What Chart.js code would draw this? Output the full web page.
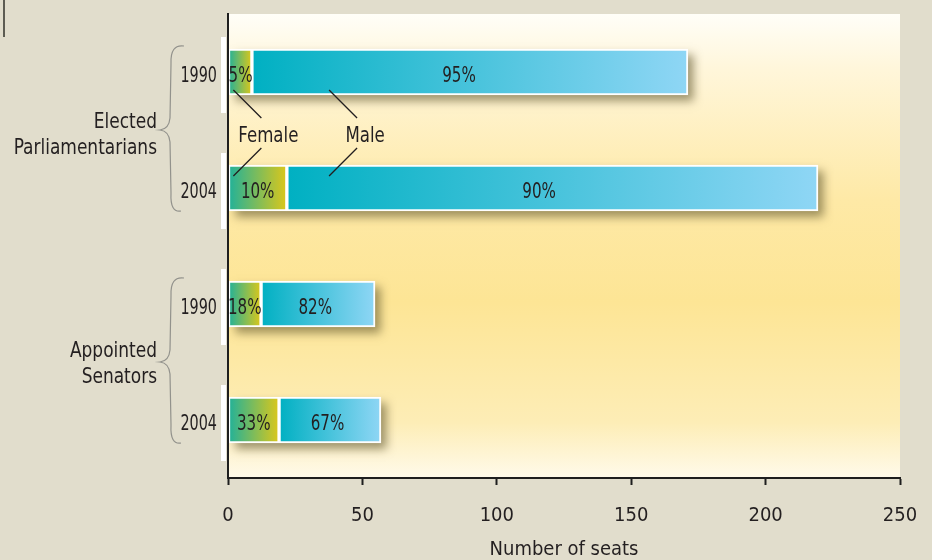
<!DOCTYPE html>
<html>
<head>
<meta charset="utf-8">
<script src="https://cdn.jsdelivr.net/npm/chart.js@4.4.1/dist/chart.umd.min.js"></script>
<style>
  html, body { margin: 0; padding: 0; background: #e1ddcc; }
  #wrap { width: 932px; height: 560px; position: relative; }
</style>
</head>
<body>
<div id="wrap"><canvas id="seatsChart"></canvas></div>
<script>
// data (number of seats)
const years = ['1990', '2004', '1990', '2004'];
const groups = [['Elected', 'Parliamentarians'], ['Appointed', 'Senators']];
const femaleSeats = [8.9, 21.9, 12.3, 19.0];
const maleSeats = [162.2, 197.6, 42.4, 37.9];
const femaleShare = ['5%', '10%', '18%', '33%'];
const maleShare = ['95%', '90%', '82%', '67%'];
const xTicks = [0, 50, 100, 150, 200, 250];

const FONT = '"DejaVu Sans Condensed", "DejaVu Sans", sans-serif';
const INK = '#231f20';

// horizontal gradient for a segment of a bar
function segGradient(c, fromVal, toVal, c0, c1) {
  const xs = c.chart.scales.x;
  if (!xs || c.type !== 'data') return c0;
  const a = xs.getPixelForValue(fromVal);
  const b = xs.getPixelForValue(toVal);
  if (!isFinite(a) || !isFinite(b) || a === b) return c0;
  const g = c.chart.ctx.createLinearGradient(a, 0, b, 0);
  g.addColorStop(0, c0);
  g.addColorStop(1, c1);
  return g;
}

// condensed text: the original uses a narrow face
function narrowText(ctx, txt, x, y, align, sx) {
  const w = ctx.measureText(txt).width * sx;
  let left = x;
  if (align === 'center') left = x - w / 2;
  if (align === 'right') left = x - w;
  ctx.save();
  ctx.translate(left, y);
  ctx.scale(sx, 1);
  ctx.textAlign = 'left';
  ctx.fillText(txt, 0, 0);
  ctx.restore();
}

// background of the plot area + shadows under the bars
const backdrop = {
  id: 'backdrop',
  beforeDraw(chart) {
    const { ctx, chartArea: a } = chart;
    const g = ctx.createLinearGradient(0, a.top, 0, a.bottom);
    g.addColorStop(0, '#fffef8');
    g.addColorStop(0.12, '#fff6da');
    g.addColorStop(0.4, '#fee9a6');
    g.addColorStop(0.62, '#fde595');
    g.addColorStop(0.88, '#fdedb6');
    g.addColorStop(1, '#fffaea');
    ctx.save();
    ctx.fillStyle = g;
    ctx.fillRect(a.left, a.top, a.right - a.left, a.bottom - a.top);
    ctx.restore();
  },
  beforeDatasetsDraw(chart) {
    const { ctx } = chart;
    const f = chart.getDatasetMeta(0).data;
    const m = chart.getDatasetMeta(1).data;
    ctx.save();
    ctx.shadowColor = 'rgba(95, 85, 45, 0.6)';
    ctx.shadowBlur = 9;
    ctx.shadowOffsetX = 6;
    ctx.shadowOffsetY = 6;
    ctx.fillStyle = '#b9ad86';
    f.forEach((el, i) => {
      const h = el.height;
      ctx.fillRect(el.base, el.y - h / 2, m[i].x - el.base, h);
    });
    ctx.restore();
  }
};

// texts, braces, pointers and axis line
const decorations = {
  id: 'decorations',
  afterDatasetsDraw(chart) {
    const { ctx, chartArea: a } = chart;
    const xs = chart.scales.x;
    const f = chart.getDatasetMeta(0).data;
    const m = chart.getDatasetMeta(1).data;

    ctx.save();
    ctx.font = '21px ' + FONT;
    ctx.fillStyle = INK;
    ctx.textBaseline = 'alphabetic';
    f.forEach((el, i) => {
      let cx = (el.base + el.x) / 2;
      if (i === 0) cx = el.base + 12;
      narrowText(ctx, femaleShare[i], cx, el.y + 10, 'center', 0.8);
      const w = m[i].x - m[i].base;
      narrowText(ctx, maleShare[i], (m[i].base + m[i].x) / 2 - w * 0.025, el.y + 10, 'center', 0.8);
    });

    // year labels and white markers left of the axis
    f.forEach((el, i) => {
      ctx.fillStyle = INK;
      narrowText(ctx, years[i], a.left - 11, el.y + 10, 'right', 0.76);
      ctx.fillStyle = '#ffffff';
      ctx.fillRect(a.left - 7, el.y - 35, 5, 76);
    });

    // group labels with braces
    ctx.fillStyle = INK;
    [[0, 1], [2, 3]].forEach((pair, gi) => {
      const yTop = f[pair[0]].y, yBot = f[pair[1]].y;
      const mid = (yTop + yBot) / 2;
      const lm = gi === 0 ? mid + 3 : mid;
      narrowText(ctx, groups[gi][0], a.left - 71, lm - 13 + 7.5, 'right', 0.9);
      narrowText(ctx, groups[gi][1], a.left - 71, lm + 13 + 7.5, 'right', 0.9);

      const t = yTop - 26, b = yBot + 23;
      const xs0 = a.left - 58, tip = a.left - 68, end = a.left - 44;
      ctx.strokeStyle = '#92928c';
      ctx.lineWidth = 1.2;
      ctx.beginPath();
      ctx.moveTo(end, t);
      ctx.quadraticCurveTo(xs0, t - 2, xs0 + 1, t + 18);
      ctx.lineTo(xs0, mid - 12);
      ctx.quadraticCurveTo(xs0 - 1, mid - 1, tip, mid);
      ctx.quadraticCurveTo(xs0 - 1, mid + 1, xs0, mid + 12);
      ctx.lineTo(xs0 + 1, b - 18);
      ctx.quadraticCurveTo(xs0, b + 2, end - 3, b);
      ctx.stroke();
    });

    // Female / Male pointers
    const top = f[0], bot = f[1];
    const yA = top.y + top.height / 2 - 5;
    const yB = bot.y - bot.height / 2 + 11;
    const yL = (yA + yB) / 2;
    const xF = xs.getPixelForValue(2), xM = xs.getPixelForValue(37.6);
    ctx.strokeStyle = '#231f20';
    ctx.lineWidth = 1.3;
    [xF, xM].forEach(x => {
      ctx.beginPath();
      ctx.moveTo(x, yA); ctx.lineTo(x + 28, yA + 28);
      ctx.moveTo(x + 28, yB - 28); ctx.lineTo(x, yB);
      ctx.stroke();
    });
    narrowText(ctx, 'Female', xF + 35, yL + 9, 'center', 0.88);
    narrowText(ctx, 'Male', xM + 36, yL + 9, 'center', 0.88);

    // vertical axis line
    ctx.strokeStyle = '#1e1e1e';
    ctx.lineWidth = 2;
    ctx.beginPath();
    ctx.moveTo(a.left, a.top - 1);
    ctx.lineTo(a.left, a.bottom);
    ctx.stroke();

    // small mark top left
    ctx.fillStyle = '#5d5c52';
    ctx.fillRect(3, 0, 2, 37);
    ctx.restore();
  }
};

new Chart(document.getElementById('seatsChart'), {
  type: 'bar',
  data: {
    labels: years,
    datasets: [
      {
        label: 'Female',
        data: femaleSeats,
        backgroundColor: c => segGradient(c, 0, femaleSeats[c.dataIndex], '#1fb19b', '#dcc71a'),
        borderColor: '#ffffff',
        borderWidth: 2,
        borderSkipped: false,
        barThickness: 46
      },
      {
        label: 'Male',
        data: maleSeats,
        backgroundColor: c => segGradient(c, femaleSeats[c.dataIndex],
          femaleSeats[c.dataIndex] + maleSeats[c.dataIndex], '#00b0c2', '#8fd6f5'),
        borderColor: '#ffffff',
        borderWidth: 2,
        borderSkipped: false,
        barThickness: 46
      }
    ]
  },
  options: {
    indexAxis: 'y',
    responsive: true,
    maintainAspectRatio: false,
    animation: false,
    layout: { padding: { left: 228, right: 32, top: 14, bottom: 0 } },
    plugins: {
      legend: { display: false },
      tooltip: { enabled: true }
    },
    scales: {
      x: {
        stacked: true,
        min: 0,
        max: 250,
        afterBuildTicks: s => { s.ticks = xTicks.map(v => ({ value: v })); },
        afterFit: s => { s.height = 82; s.paddingLeft = 0; s.paddingRight = 0; },
        ticks: { color: INK, font: { family: FONT, size: 20 }, padding: 19, maxRotation: 0 },
        grid: { drawOnChartArea: false, drawTicks: true, tickLength: 7, tickColor: '#1e1e1e', tickWidth: 2 },
        border: { display: true, color: '#1e1e1e', width: 2 },
        title: {
          display: true,
          text: 'Number of seats',
          color: INK,
          font: { family: FONT, size: 20, lineHeight: 1 },
          padding: { top: 0, bottom: 0 }
        }
      },
      y: { stacked: true, display: false }
    }
  },
  plugins: [backdrop, decorations]
});
</script>
</body>
</html>
